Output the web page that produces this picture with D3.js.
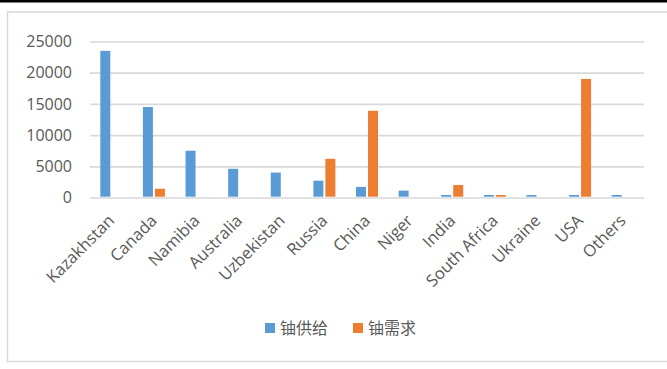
<!DOCTYPE html>
<html>
<head>
<meta charset="utf-8">
<script src="https://cdn.jsdelivr.net/npm/d3@7"></script>
<style>
  body { margin: 0; background: #fff; }
  text { font-family: "Open Sans", "Noto Sans CJK SC", sans-serif; fill: #595959; }
</style>
</head>
<body>
<div id="chart"></div>
<script>
// data
var countries = ["Kazakhstan", "Canada", "Namibia", "Australia", "Uzbekistan", "Russia",
  "China", "Niger", "India", "South Africa", "Ukraine", "USA", "Others"];
var supply = [23500, 14500, 7500, 4600, 4000, 2700, 1700, 1100, 400, 400, 400, 400, 400];
var demand = [0, 1400, 0, 0, 0, 6200, 13900, 0, 2000, 400, 0, 19000, 0];
var seriesNames = ["铀供给", "铀需求"];
var colors = ["#5b9bd5", "#ed7d31"];
var yTicks = [0, 5000, 10000, 15000, 20000, 25000];

var svgWidth = 667, svgHeight = 369;
var margin = { top: 41.5, left: 90, right: 23, bottom: 171.5 };
var width = svgWidth - margin.left - margin.right;
var height = svgHeight - margin.top - margin.bottom;

var svg = d3.select("#chart").append("svg")
  .attr("width", svgWidth)
  .attr("height", svgHeight);

// black strip on top and the chart frame
svg.append("rect").attr("x", 0).attr("y", 0).attr("width", svgWidth).attr("height", 2.5).attr("fill", "#000");
svg.append("rect")
  .attr("x", 7.5).attr("y", 12).attr("width", 700).attr("height", 349.5)
  .attr("fill", "none").attr("stroke", "#d9d9d9").attr("stroke-width", 1.5);

var g = svg.append("g").attr("transform", `translate(${margin.left},${margin.top})`);

var x = d3.scaleBand().domain(countries).range([0, width]);
var y = d3.scaleLinear().domain([0, 25000]).range([height, 0]);

// gridlines + y labels
var yAxis = d3.axisLeft(y).tickValues(yTicks).tickSize(-width).tickPadding(18).tickFormat(d3.format("d"));
g.append("g").call(yAxis)
  .call(s => s.select(".domain").remove())
  .call(s => s.selectAll("line").attr("stroke", "#d9d9d9").attr("stroke-width", 1.7))
  .call(s => s.selectAll("text").attr("font-size", 16).attr("fill", "#595959")
    .attr("font-family", "'Open Sans', sans-serif"));

// bars
var barW = 10, gap = 2;
var series = [supply, demand];
series.forEach(function(vals, si) {
  g.append("g").selectAll("rect")
    .data(countries)
    .enter()
    .append("rect")
    .attr("x", (d, i) => x(d) + x.bandwidth() / 2 + (si === 0 ? -barW - gap / 2 : gap / 2))
    .attr("y", (d, i) => y(vals[i]))
    .attr("width", barW)
    .attr("height", (d, i) => height - y(vals[i]) - 0.8)
    .attr("fill", colors[si]);
});

// category labels, rotated
g.append("g").selectAll("text")
  .data(countries)
  .enter()
  .append("text")
  .attr("transform", d => `translate(${x(d) + x.bandwidth() / 2 - 4},${height + 16}) rotate(-45)`)
  .attr("text-anchor", "end")
  .attr("dy", "0.7em")
  .attr("font-size", 16.5)
  .text(d => d);

// legend
var legend = svg.append("g");
var legendX = [265, 353];
seriesNames.forEach(function(name, i) {
  legend.append("rect")
    .attr("x", legendX[i]).attr("y", 323)
    .attr("width", 10).attr("height", 10)
    .attr("fill", colors[i]);
  legend.append("text")
    .attr("x", legendX[i] + 15).attr("y", 334)
    .attr("font-size", 16)
    .attr("font-family", "'Noto Sans CJK SC', sans-serif")
    .text(name);
});
</script>
</body>
</html>
